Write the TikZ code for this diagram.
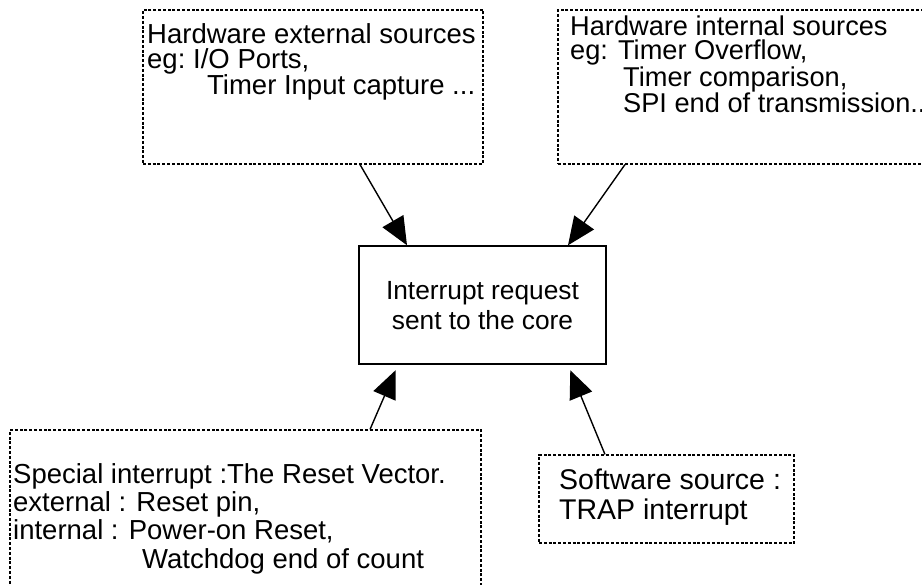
\documentclass[tikz,border=0pt]{standalone}
\usepackage{fontspec}
\setmainfont{Liberation Sans}
\usetikzlibrary{arrows.meta}
\begin{document}
\begin{tikzpicture}[x=1pt,y=-1pt,
        srcbox/.style={draw, line width=1.1pt, dash pattern=on 3pt off 1.8pt},
        srctext/.style={anchor=north west, inner sep=0pt, align=left, font=\fontsize{27.5}{#1}\selectfont},
        req/.style={-{Triangle[length=28pt,width=24pt]}, line width=1.4pt}]
        \useasboundingbox (0,0) rectangle (922,585);

        \node[srcbox, minimum width=340pt, minimum height=154pt] (ext) at (313,87) {};
        \node[srcbox, minimum width=377pt, minimum height=154pt] (int) at (746.5,87) {};
        \node[draw, line width=1.4pt, minimum width=247pt, minimum height=118pt] (core) at (482.5,305) {};
        \node[srcbox, minimum width=471pt, minimum height=165pt] (spec) at (245.5,512.5) {};
        \node[srcbox, minimum width=255pt, minimum height=88pt] (soft) at (666.5,499) {};

        \node[srctext=25] (ext text) at (147,23) {Hardware external sources\\
            \makebox[46pt][l]{eg:}I/O Ports,\\
            \hspace*{60pt}Timer Input capture ...};
        \node[srctext=24, font=\fontsize{27.2}{24}\selectfont] (int text) at (570,16) {Hardware internal sources\\
            eg: Timer Overflow,\\
            \hspace*{53pt}Timer comparison,\\
            \hspace*{53pt}SPI end of transmission..};
        \node[anchor=north, inner sep=0pt, align=center, font=\fontsize{26.3}{30}\selectfont] (core text) at (482.5,281) {Interrupt request\\sent to the core};
        \node[srctext=28.3] (spec text) at (13,463) {Special interrupt :The Reset Vector.\\
            external : Reset pin,\\
            internal : Power-on Reset,\\
            \hspace*{129pt}Watchdog end of count};
        \node[srctext=30, font=\fontsize{28.5}{30}\selectfont] (soft text) at (559,469) {Software source :\\TRAP interrupt};

        \draw[req] ([xshift=47pt]ext.south) -- ([xshift=-75.5pt]core.north);
        \draw[req] ([xshift=-121.5pt]int.south) -- ([xshift=85.5pt]core.north);
        \draw[req, shorten >=6pt] ([xshift=124.5pt]spec.north) -- ([xshift=-84.5pt]core.south);
        \draw[req, shorten >=6pt] ([xshift=-61.5pt]soft.north) -- ([xshift=85.5pt]core.south);
    \end{tikzpicture}
\end{document}
